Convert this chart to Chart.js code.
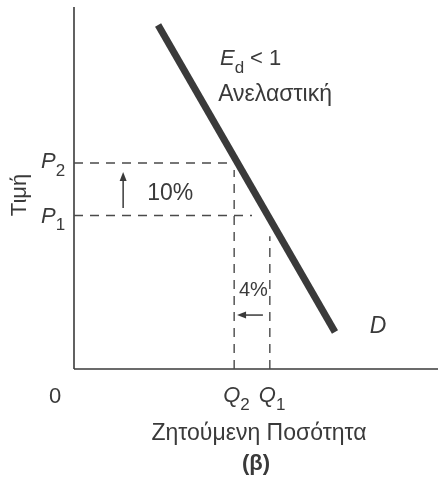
<!DOCTYPE html>
<html>
<head>
<meta charset="utf-8">
<script src="https://cdn.jsdelivr.net/npm/chart.js@4"></script>
<style>
  html, body { margin: 0; padding: 0; background: #fff; }
  #wrap { width: 438px; height: 478px; }
</style>
</head>
<body>
<div id="wrap"><canvas id="chDemand"></canvas></div>
<script>
// inelastic demand curve (b)

// demand curve D
const demandQ = [23.1, 71.7];
const demandP = [95, 10.2];

// price levels P1, P2 and quantities Q2, Q1
const priceTicks = [42.4, 56.9];
const priceSubs = ['1', '2'];
const qtyTicks = [44.0, 53.8];
const qtySubs = ['2', '1'];

// how far each guide reaches
const priceGuideEnd = [48.9, 43];   // x where P1 / P2 dashes stop
const qtyGuideEnd = [55, 36.7];     // y where Q2 / Q1 dashes stop

const INK = '#3a3a3a';
const FONT = '"Liberation Sans", Arial, sans-serif';

const demandData = demandQ.map((q, i) => ({ x: q, y: demandP[i] }));

const guideSets = [];
priceTicks.forEach((p, i) => {
    guideSets.push({ data: [{ x: 0, y: p }, { x: priceGuideEnd[i], y: p }] });
});
qtyTicks.forEach((q, i) => {
    guideSets.push({ data: [{ x: q, y: 0 }, { x: q, y: qtyGuideEnd[i] }] });
});

function drawArrow(ctx, x1, y1, x2, y2) {
    const a = Math.atan2(y2 - y1, x2 - x1);
    const h = 9;
    ctx.beginPath();
    ctx.moveTo(x1, y1);
    ctx.lineTo(x2 - Math.cos(a) * 4, y2 - Math.sin(a) * 4);
    ctx.stroke();
    ctx.beginPath();
    ctx.moveTo(x2, y2);
    ctx.lineTo(x2 - h * Math.cos(a) + 3.5 * Math.sin(a), y2 - h * Math.sin(a) - 3.5 * Math.cos(a));
    ctx.lineTo(x2 - h * Math.cos(a) - 3.5 * Math.sin(a), y2 - h * Math.sin(a) + 3.5 * Math.cos(a));
    ctx.closePath();
    ctx.fill();
}

function subText(ctx, main, sub, x, y, size) {
    ctx.font = 'italic ' + size + 'px ' + FONT;
    ctx.textAlign = 'left';
    ctx.textBaseline = 'middle';
    ctx.fillText(main, x, y);
    const w = ctx.measureText(main).width;
    ctx.font = Math.round(size * 0.75) + 'px ' + FONT;
    ctx.fillText(sub, x + w, y + size * 0.42);
}

const labelsPlugin = {
    id: 'labels',
    afterDatasetsDraw(chart) {
        const ctx = chart.ctx;
        const xs = chart.scales.x, ys = chart.scales.y;
        const px = v => xs.getPixelForValue(v);
        const py = v => ys.getPixelForValue(v);
        ctx.save();
        ctx.fillStyle = INK;
        ctx.strokeStyle = INK;
        ctx.lineWidth = 1.4;

        // price ticks on the y axis
        priceTicks.forEach((p, i) => {
            subText(ctx, 'P', priceSubs[i], 41, py(p) + (i === 0 ? 1 : -1), 22);
        });
        // quantity ticks under the x axis
        qtyTicks.forEach((q, i) => {
            subText(ctx, 'Q', qtySubs[i], px(q) - 11, 396, 22);
        });

        ctx.font = '22px ' + FONT;
        ctx.textBaseline = 'middle';
        ctx.textAlign = 'center';
        ctx.fillText('0', 55, 397);
        ctx.font = '23px ' + FONT;
        ctx.fillText('Ζητούμενη Ποσότητα', 259, 434);
        ctx.font = 'bold 22px ' + FONT;
        ctx.fillText('(β)', 256, 464);

        ctx.font = '22px ' + FONT;
        ctx.save();
        ctx.translate(20, 195);
        ctx.rotate(-Math.PI / 2);
        ctx.fillText('Τιμή', 0, 0);
        ctx.restore();

        // curve annotations
        ctx.textAlign = 'left';
        subText(ctx, 'E', 'd', px(40.1), py(85.6), 22);
        ctx.font = '22px ' + FONT;
        ctx.fillText('< 1', px(40.1) + 30, py(85.6));
        ctx.font = '23px ' + FONT;
        ctx.fillText('Ανελαστική', px(39.6), py(75.7));
        ctx.fillText('10%', px(20.1), py(48.3));
        ctx.font = '20px ' + FONT;
        ctx.fillText('4%', px(45.3), py(21.8));
        ctx.font = 'italic 23px ' + FONT;
        ctx.textAlign = 'center';
        ctx.fillText('D', px(83.5), py(11.6));

        // change arrows
        ctx.lineWidth = 1.5;
        drawArrow(ctx, px(13.5), py(44.5), px(13.5), py(54.4));
        drawArrow(ctx, px(51.9), py(14.9), px(44.8), py(14.9));
        ctx.restore();
    }
};

new Chart(document.getElementById('chDemand').getContext('2d'), {
    type: 'scatter',
    data: {
        datasets: [
            ...guideSets.map(s => ({
                data: s.data,
                showLine: true,
                borderColor: '#4a4a4a',
                borderWidth: 1.4,
                borderDash: [9, 7],
                pointRadius: 0,
                clip: false
            })),
            {
                data: [{ x: 0, y: 0 }, { x: 0, y: 100 }],
                showLine: true, borderColor: INK, borderWidth: 1.6, pointRadius: 0, clip: false
            },
            {
                data: [{ x: 0, y: 0 }, { x: 100, y: 0 }],
                showLine: true, borderColor: INK, borderWidth: 1.6, pointRadius: 0, clip: false
            },
            {
                label: 'D',
                data: demandData,
                showLine: true,
                borderColor: '#3a3a3a',
                borderWidth: 7,
                borderCapStyle: 'butt',
                pointRadius: 0,
                clip: false
            }
        ]
    },
    options: {
        responsive: true,
        maintainAspectRatio: false,
        animation: false,
        layout: { padding: { left: 74, right: 0, top: 7, bottom: 109 } },
        scales: {
            x: { type: 'linear', min: 0, max: 100, display: false },
            y: { type: 'linear', min: 0, max: 100, display: false }
        },
        plugins: {
            legend: { display: false },
            tooltip: { enabled: false }
        }
    },
    plugins: [labelsPlugin]
});
</script>
</body>
</html>
